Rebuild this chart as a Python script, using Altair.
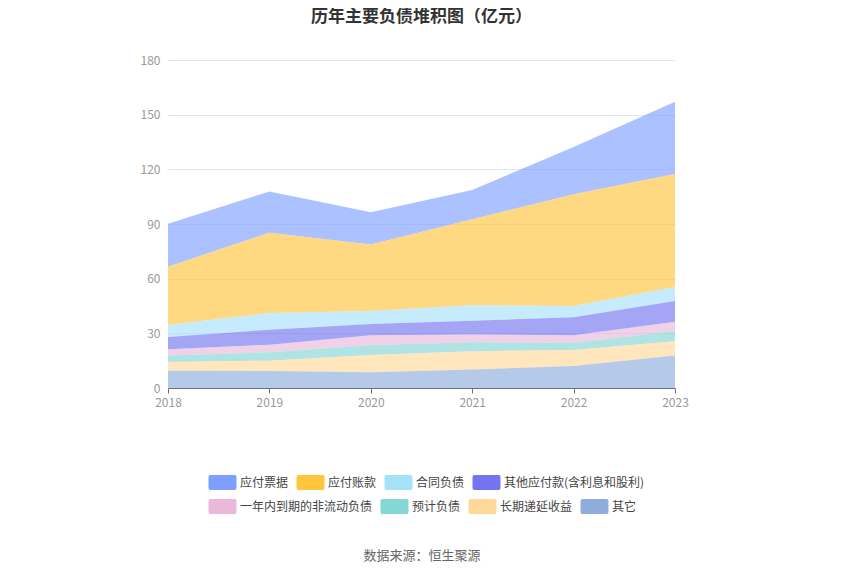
import altair as alt
import pandas as pd

years = ["2018", "2019", "2020", "2021", "2022", "2023"]
series = ["应付票据", "应付账款", "合同负债", "其他应付款(含利息和股利)",
          "一年内到期的非流动负债", "预计负债", "长期递延收益", "其它"]
colors = ["#7f9fff", "#ffc53d", "#a6e1fa", "#7474f0",
          "#e9b8da", "#85d6d6", "#ffd99a", "#8eaddb"]

v_piaoju = [23.6, 22.7, 17.7, 16.1, 25.9, 39.7]
v_zhangkuan = [32.0, 44.0, 36.4, 47.2, 61.3, 62.0]
v_hetong = [6.6, 9.2, 7.2, 8.5, 6.2, 7.7]
v_qitayingfu = [6.8, 8.2, 6.2, 7.5, 9.9, 11.3]
v_yinian = [3.3, 4.2, 5.3, 4.3, 4.0, 5.1]
v_yuji = [3.6, 4.6, 5.5, 5.0, 4.0, 5.7]
v_diyan = [4.8, 5.7, 9.5, 10.0, 8.8, 7.7]
v_qita = [9.5, 9.3, 8.6, 10.1, 12.1, 17.9]

all_vals = [v_piaoju, v_zhangkuan, v_hetong, v_qitayingfu, v_yinian, v_yuji, v_diyan, v_qita]

rows = []
for i, (name, vals) in enumerate(zip(series, all_vals)):
    for y, v in zip(years, vals):
        rows.append({"year": y, "series": name, "value": v, "idx": i})
df = pd.DataFrame(rows)

FONT = "Noto Sans CJK SC"
sym = ("M-1.5,-0.6 Q-1.5,-0.8 -1.3,-0.8 L1.3,-0.8 Q1.5,-0.8 1.5,-0.6 "
       "L1.5,0.6 Q1.5,0.8 1.3,0.8 L-1.3,0.8 Q-1.5,0.8 -1.5,0.6 Z")

x_enc = alt.X("year:O", scale=alt.Scale(type="point", padding=0),
              axis=alt.Axis(title="数据来源：恒生聚源", titleFont=FONT, titleFontSize=13,
                            titleFontWeight="normal", titleColor="#666666",
                            titleY=167, titleBaseline="middle",
                            labelAngle=0, labelColor="#999999", labelFont=FONT,
                            labelFontSize=12, labelPadding=4,
                            domainColor="#6E7079", tickColor="#6E7079", tickSize=5,
                            grid=False))
y_enc = alt.Y("y0:Q", scale=alt.Scale(domain=[0, 180], nice=False),
              axis=alt.Axis(title=None, values=[0, 30, 60, 90, 120, 150, 180],
                            labelColor="#999999", labelFont=FONT, labelFontSize=12,
                            labelPadding=8, domain=False, ticks=False,
                            gridColor="#E0E6F1"))


def legend(ly):
    return alt.Legend(title=None, orient="none", legendX=45, legendY=ly,
                      direction="horizontal", symbolType=sym, symbolSize=348,
                      symbolOpacity=1, symbolStrokeWidth=0,
                      labelFont=FONT, labelFontSize=12, labelColor="#444444",
                      labelLimit=300, labelOffset=8, columnPadding=7)


base = alt.Chart(df).transform_stack(
    stack="value", groupby=["year"], as_=["y0", "y1"],
    sort=[alt.SortField("idx", order="descending")],
)

top = base.transform_filter("datum.idx < 4").mark_area(fillOpacity=0.65, strokeWidth=0).encode(
    x=x_enc, y=y_enc, y2="y1:Q",
    color=alt.Color("series:N", scale=alt.Scale(domain=series[:4], range=colors[:4]),
                    legend=legend(413)),
    tooltip=["year", "series", "value"],
)
bottom = base.transform_filter("datum.idx >= 4").mark_area(fillOpacity=0.65, strokeWidth=0).encode(
    x=x_enc, y=y_enc, y2="y1:Q",
    color=alt.Color("series:N", scale=alt.Scale(domain=series[4:], range=colors[4:]),
                    legend=legend(437)),
    tooltip=["year", "series", "value"],
)

chart = alt.layer(bottom, top).resolve_scale(color="independent").properties(
    width=507, height=328,
    padding={"left": 160, "top": 52, "right": 167, "bottom": 179},
    autosize=alt.AutoSizeParams(type="none"),
    title=alt.TitleParams("历年主要负债堆积图（亿元）", font=FONT, fontSize=17,
                          fontWeight="bold", color="#333333", anchor="middle", offset=28),
).configure_view(stroke=None)

chart.save("out.html", embed_options={"renderer": "svg", "actions": False})
